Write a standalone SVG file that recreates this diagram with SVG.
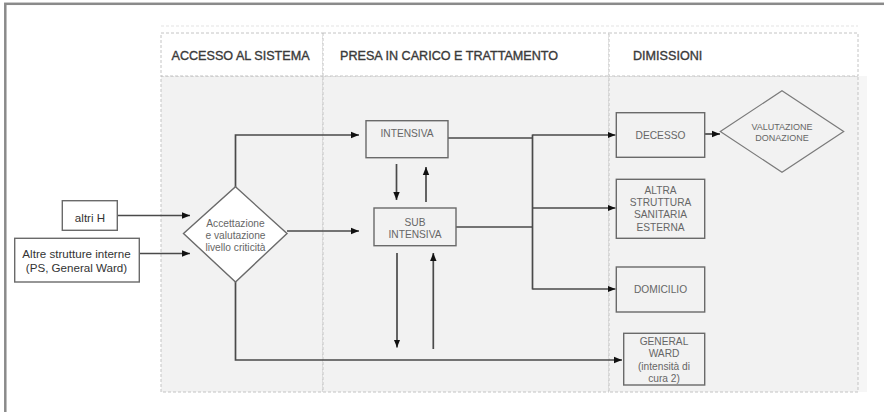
<svg xmlns="http://www.w3.org/2000/svg" width="884" height="412" viewBox="0 0 884 412">
  <defs>
    <marker id="arrow" viewBox="0 0 8 8" refX="8" refY="4" markerWidth="8" markerHeight="8" markerUnits="userSpaceOnUse" orient="auto">
      <path d="M0,0.8 L8,4 L0,7.2 Z" fill="#111"/>
    </marker>
    <style>
      .frame { fill: none; stroke: #8a8a8a; stroke-width: 2.5; }
      .lane { fill: #f2f2f2; stroke: #c4c4c4; stroke-width: 1; stroke-dasharray: 3 2; }
      .head { fill: #ffffff; stroke: #c4c4c4; stroke-width: 1; stroke-dasharray: 3 2; }
      .htext { font-family: "Liberation Sans", Arial, sans-serif; font-size: 12.6px; fill: #3a3a3a; stroke: #3a3a3a; stroke-width: 0.35; }
      .box { fill: #f2f2f2; stroke: #6a6a6a; stroke-width: 1.4; }
      .wbox { fill: #ffffff; stroke: #6a6a6a; stroke-width: 1.4; }
      .dia { fill: #ffffff; stroke: #6a6a6a; stroke-width: 1.4; }
      .dia2 { fill: #f2f2f2; stroke: #7a7a7a; stroke-width: 1.2; }
      .t { font-family: "Liberation Sans", Arial, sans-serif; font-size: 10.2px; fill: #666; text-anchor: middle; }
      .ts { font-family: "Liberation Sans", Arial, sans-serif; font-size: 9px; fill: #666; text-anchor: middle; }
      .td { font-family: "Liberation Sans", Arial, sans-serif; font-size: 11.6px; fill: #333; text-anchor: middle; }
      .link { fill: none; stroke: #4a4a4a; stroke-width: 1.7; }
    </style>
  </defs>

  <rect width="884" height="412" fill="#ffffff"/>
  <!-- outer frame (open toward the right and bottom edges) -->
  <rect class="frame" x="5.3" y="3.8" width="900" height="430"/>

  <!-- swimlanes -->
  <g id="lanes">
    <line x1="161" y1="26" x2="858" y2="26" stroke="#f1f1f1" stroke-width="2" stroke-dasharray="3 2"/>
    <rect x="858" y="76" width="9" height="316" fill="#f6f6f6"/>
    <rect class="lane" x="161" y="76" width="162" height="316"/>
    <rect class="lane" x="323" y="76" width="286" height="316"/>
    <rect class="lane" x="609" y="76" width="249" height="316"/>
    <rect class="head" x="161" y="33" width="162" height="43"/>
    <rect class="head" x="323" y="33" width="286" height="43"/>
    <rect class="head" x="609" y="33" width="249" height="43"/>
    <text class="htext" x="171.5" y="59.5">ACCESSO AL SISTEMA</text>
    <text class="htext" x="340" y="59.5">PRESA IN CARICO E TRATTAMENTO</text>
    <text class="htext" x="633" y="59.5">DIMISSIONI</text>
  </g>

  <!-- connectors -->
  <g id="connectors">
    <path class="link" d="M117,215.5 H190" marker-end="url(#arrow)"/>
    <path class="link" d="M131,253.5 H190" marker-end="url(#arrow)"/>
    <path class="link" d="M287,231 H359" marker-end="url(#arrow)"/>
    <path class="link" d="M235.5,187 V135 H359" marker-end="url(#arrow)"/>
    <path class="link" d="M396.5,164 V200" marker-end="url(#arrow)"/>
    <path class="link" d="M426,202 V167" marker-end="url(#arrow)"/>
    <path class="link" d="M397,253 V347.5" marker-end="url(#arrow)"/>
    <path class="link" d="M433.3,349 V253" marker-end="url(#arrow)"/>
    <path class="link" d="M235.5,282 V360 H622" marker-end="url(#arrow)"/>
    <path class="link" d="M448,138 H532.5"/>
    <path class="link" d="M456,227 H533"/>
    <path class="link" d="M532.5,134.5 V289.5"/>
    <path class="link" d="M532.5,135 H615.5" marker-end="url(#arrow)"/>
    <path class="link" d="M532.5,208 H615.5" marker-end="url(#arrow)"/>
    <path class="link" d="M532.5,289 H615.5" marker-end="url(#arrow)"/>
    <path class="link" d="M705,134 H720" marker-end="url(#arrow)"/>
  </g>

  <!-- nodes -->
  <g id="altri-h">
    <rect class="wbox" x="62.3" y="200.7" width="55" height="29.6"/>
    <text class="td" x="90" y="221.5">altri H</text>
  </g>
  <g id="altre-strutture">
    <rect class="wbox" x="14.7" y="238.3" width="124.6" height="43.7"/>
    <text class="td" x="76.5" y="257.8">Altre strutture interne</text>
    <text class="td" x="76.5" y="272">(PS, General Ward)</text>
  </g>
  <g id="accettazione">
    <polygon class="dia" points="235.5,186.8 287,233.5 235.5,282 183.5,233.5"/>
    <text class="t" x="235.5" y="226.5">Accettazione</text>
    <text class="t" x="235.5" y="238.8">e valutazione</text>
    <text class="t" x="235.5" y="251">livello criticità</text>
  </g>
  <g id="intensiva">
    <rect class="box" x="366" y="120.7" width="82" height="37"/>
    <text class="t" x="407" y="136.8">INTENSIVA</text>
  </g>
  <g id="sub-intensiva">
    <rect class="box" x="374" y="208" width="82" height="37.7"/>
    <text class="t" x="415" y="225.5">SUB</text>
    <text class="t" x="415" y="237.8">INTENSIVA</text>
  </g>
  <g id="decesso">
    <rect class="box" x="616.3" y="112.7" width="88.4" height="44.6"/>
    <text class="t" x="660.5" y="138.8">DECESSO</text>
  </g>
  <g id="valutazione-donazione">
    <polygon class="dia2" points="782,90.7 843.7,131.5 782,172.3 720.3,131.5"/>
    <text class="ts" x="782" y="130">VALUTAZIONE</text>
    <text class="ts" x="782" y="140.8">DONAZIONE</text>
  </g>
  <g id="altra-struttura">
    <rect class="box" x="616.3" y="179.3" width="88.4" height="59"/>
    <text class="t" x="660.5" y="193.8">ALTRA</text>
    <text class="t" x="660.5" y="206.3">STRUTTURA</text>
    <text class="t" x="660.5" y="218.3">SANITARIA</text>
    <text class="t" x="660.5" y="231.3">ESTERNA</text>
  </g>
  <g id="domicilio">
    <rect class="box" x="616.3" y="267" width="88.4" height="45"/>
    <text class="t" x="660.5" y="293">DOMICILIO</text>
  </g>
  <g id="general-ward">
    <rect class="box" x="623.7" y="333.3" width="81" height="51.7"/>
    <text class="t" x="664" y="344.8">GENERAL</text>
    <text class="t" x="664" y="356.8">WARD</text>
    <text class="t" x="664" y="369.8">(intensità di</text>
    <text class="t" x="664" y="382.3">cura 2)</text>
  </g>
</svg>
